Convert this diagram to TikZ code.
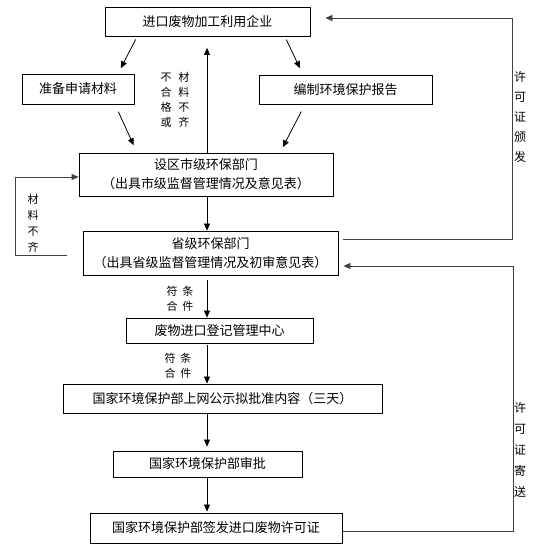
\documentclass[tikz,border=0pt]{standalone}
\usepackage{fontspec}
\setmainfont{Noto Sans CJK SC}
\usetikzlibrary{arrows.meta}

\tikzset{
  box/.style={draw, line width=0.8pt, inner sep=0pt, align=center, font=\fontsize{13}{19}\selectfont},
  arr/.style={-{Triangle[length=7pt,width=6pt]}, line width=0.8pt},
  loop/.style={line width=0.9pt, draw=black!75},
  vlabel/.style={align=center, inner sep=0pt, font=\fontsize{12}{20}\selectfont},
  small/.style={align=center, inner sep=0pt, font=\fontsize{11}{15}\selectfont}
}

\begin{document}
\begin{tikzpicture}[x=1pt,y=-1pt]
\useasboundingbox (0,0) rectangle (555,553);

\node[box, minimum width=205pt, minimum height=29pt] (firm) at (207.5,22) {进口废物加工利用企业};
\node[box, minimum width=112pt, minimum height=30pt] (prep) at (78,89) {准备申请材料};
\node[box, minimum width=173pt, minimum height=29pt] (report) at (345.5,89.5) {编制环境保护报告};
\node[box, minimum width=254pt, minimum height=43pt] (city) at (206,174.5) {设区市级环保部门\\（出具市级监督管理情况及意见表）};
\node[box, minimum width=255pt, minimum height=44pt] (prov) at (210.5,253) {省级环保部门\\（出具省级监督管理情况及初审意见表）};
\node[box, minimum width=187pt, minimum height=25pt] (center) at (219.5,330.5) {废物进口登记管理中心};
\node[box, minimum width=319pt, minimum height=29pt] (notice) at (222.5,398.5) {国家环境保护部上网公示拟批准内容（三天）};
\node[box, minimum width=189pt, minimum height=26pt] (approve) at (207.5,464) {国家环境保护部审批};
\node[box, minimum width=252pt, minimum height=30pt] (issue) at (216,528) {国家环境保护部签发进口废物许可证};

\coordinate (spine) at (207,0);
\coordinate (rtop) at (512,18);
\coordinate (rbot) at (513,266);

% top part
\draw[arr, shorten <=3pt, shorten >=6pt] ([xshift=-70.5pt]firm.south) -- ([xshift=40pt]prep.north);
\draw[arr, shorten <=3pt, shorten >=7pt] ([xshift=77.5pt]firm.south) -- ([xshift=-42.5pt]report.north);
\draw[arr, shorten <=8pt, shorten >=8pt] ([xshift=37pt]prep.south) -- ([xshift=-69pt]city.north);
\draw[arr, shorten <=8pt, shorten >=6pt] ([xshift=-40.5pt]report.south) -- ([xshift=74pt]city.north);
\draw[arr, shorten >=11pt] (city.north -| spine) -- (firm.south -| spine);

% main chain
\draw[arr] (city.south -| spine) -- (prov.north -| spine);
\draw[arr, shorten <=5pt] (prov.south -| spine) -- (center.north -| spine);
\draw[arr, shorten <=2pt] (center.south -| spine) -- (notice.north -| spine);
\draw[arr, shorten >=4pt] (notice.south -| spine) -- (approve.north -| spine);
\draw[arr, shorten >=1pt] (approve.south -| spine) -- (issue.north -| spine);

% loops
\draw[loop, arr] ([xshift=-16pt,yshift=-2pt]prov.west) -- ++(-51,0) |- ([yshift=-2.5pt]city.west);
\draw[loop, arr, shorten >=15pt] ([xshift=5pt,yshift=14pt]prov.east) -| (rtop) -- (firm.east |- rtop);
\draw[loop, arr, shorten >=5pt] ([xshift=1pt,yshift=-3pt]issue.east) -| (rbot) -- (prov.east |- rbot);

% labels
\node[small] (fail) at (175,100) {不\hspace{7pt}材\\合\hspace{7pt}料\\格\hspace{7pt}不\\或\hspace{7pt}齐};
\node[vlabel, font=\fontsize{11}{16}\selectfont] (lack) at (33,223) {材\\料\\不\\齐};
\node[small] (ok1) at (180,299) {符\hspace{5pt}条\\合\hspace{5pt}件};
\node[small] (ok2) at (178,366) {符\hspace{5pt}条\\合\hspace{5pt}件};
\node[vlabel] (grant) at (520,117) {许\\可\\证\\颁\\发};
\node[vlabel, font=\fontsize{12}{21}\selectfont] (mail) at (520,450) {许\\可\\证\\寄\\送};
\end{tikzpicture}
\end{document}
